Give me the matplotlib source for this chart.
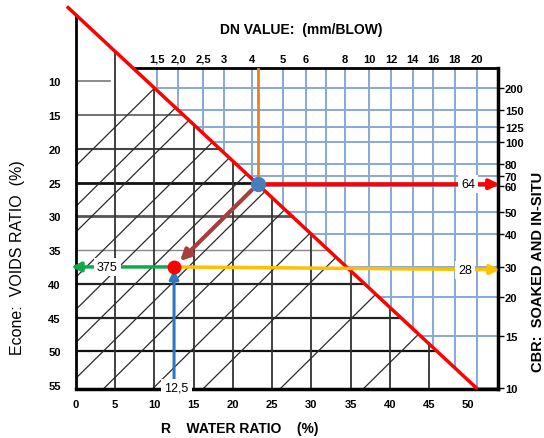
import numpy as np
import matplotlib.pyplot as plt

plt.rcParams['font.family'] = ['Liberation Sans', 'DejaVu Sans']

# scales
water_ticks = [0, 5, 10, 15, 20, 25, 30, 35, 40, 45, 50]
voids_ticks = [10, 15, 20, 25, 30, 35, 40, 45, 50, 55]

dn_labels = ['1,5', '2,0', '2,5', '3', '4', '5', '6', '', '8', '10', '12', '14', '16', '18', '20']
dn_at_water = [10.3, 13.0, 16.2, 18.9, 22.4, 26.4, 29.3, 31.9, 34.3, 37.4, 40.2, 42.9, 45.5, 48.3, 51.1]

cbr_labels = ['200', '150', '125', '100', '80', '70', '60', '50', '40', '30', '20', '15', '10']
cbr_at_voids = [10.9, 14.2, 16.7, 19.0, 22.2, 24.0, 25.5, 29.4, 32.6, 37.5, 42.0, 47.8, 55.4]

# saturation line (red) end points
sat_water = [-1.0, 51.0]
sat_voids = [-0.95, 55.4]

# diagonal family: voids value where each line meets water = 0
diag_c = [22.5, 28.5, 32.3, 39.0, 43.8, 48.7, 54.0, 59.6, 66.8, 74.2, 85.5, 97.7]

# worked example
ex_water = 12.5
ex_voids = 37.5
ex_cbr_low = '28'
ex_cbr_high = '64'
ex_voids_label = '375'
ex_water_label = '12,5'

# --- layout
x_max, y_top, y_bot = 53.8, 8.0, 55.6
k = 1.15  # diagonal slope
m = (sat_voids[1] - sat_voids[0]) / (sat_water[1] - sat_water[0])
b0 = sat_voids[0] - m * sat_water[0]


def red_y(x):
    return b0 + m * x


def red_x(y):
    return (y - b0) / m


fig = plt.figure(figsize=(5.44, 4.39), dpi=100)
ax = fig.add_axes([76 / 544, 49 / 439, 422 / 544, 321 / 439])
ax.set_xlim(0, x_max)
ax.set_ylim(y_bot, y_top)

# blue grid (upper right)
blue = '#86a9d6'
for x in dn_at_water:
    ax.plot([x, x], [y_top, min(red_y(x), y_bot)], color=blue, lw=1.4, zorder=1)
for y in cbr_at_voids:
    ax.plot([max(red_x(y), 0), x_max], [y, y], color=blue, lw=1.4, zorder=1)

# black grid (lower left)
hstyle = {10: ('#777777', 1.2), 15: ('#666666', 1.3), 20: ('#444444', 1.5),
          25: ('#111111', 2.0), 30: ('#555555', 2.0), 35: ('#888888', 1.0),
          40: ('#222222', 1.6), 45: ('#222222', 1.6), 50: ('#111111', 1.6)}
for v in voids_ticks[:-1]:
    c, lw = hstyle[v]
    x_end = red_x(v) if v > 10 else 4.3
    ax.plot([0, x_end], [v, v], color=c, lw=lw, zorder=2)
for w in water_ticks[1:-1]:
    ax.plot([w, w], [y_bot, red_y(w)], color='#333333', lw=1.3, zorder=2, clip_on=False)
for c in diag_c:
    if c <= y_bot:
        x0, y0 = 0, c
    else:
        x0, y0 = (c - y_bot) / k, y_bot
    x1 = (c - b0) / (k + m)
    ax.plot([x0, x1], [y0, c - k * x1], color='#2a2a2a', lw=0.9, zorder=2)

# frame
ax.spines['left'].set_visible(False)
ax.spines['top'].set_visible(False)
ax.spines['bottom'].set_linewidth(2.5)
ax.spines['right'].set_linewidth(2.5)
ax.plot([0, 0], [y_bot, red_y(0)], color='black', lw=2, clip_on=False, zorder=3)
ax.plot([red_x(y_top), x_max], [y_top, y_top], color='black', lw=2, clip_on=False, zorder=3)

# saturation line
ax.plot(sat_water, sat_voids, color='red', lw=2.5, clip_on=False, zorder=5)

# worked example
dc = ex_voids + k * ex_water
bx = (dc - b0) / (k + m)
by = red_y(bx)

ax.plot([bx, bx], [y_top, by], color='#e8801e', lw=2, zorder=6)

arr = dict(arrowstyle='-|>', shrinkA=0, shrinkB=0, mutation_scale=14)
ax.annotate('', xy=(54.0, by), xytext=(bx, by),
            arrowprops=dict(arr, color='red', lw=3), annotation_clip=False, zorder=6)
ax.annotate('', xy=(54.0, ex_voids + 0.4), xytext=(ex_water, ex_voids),
            arrowprops=dict(arr, color='#ffc000', lw=2.5), annotation_clip=False, zorder=6)
ax.annotate('', xy=(-0.6, ex_voids), xytext=(ex_water, ex_voids),
            arrowprops=dict(arr, color='#12a84a', lw=2.5), annotation_clip=False, zorder=6)
ax.annotate('', xy=(ex_water, ex_voids + 0.4), xytext=(ex_water, 55.0),
            arrowprops=dict(arr, color='#2e78c0', lw=2.2), annotation_clip=False, zorder=6)
ax.annotate('', xy=(ex_water, ex_voids), xytext=(bx, by),
            arrowprops=dict(arrowstyle='-|>', shrinkA=6, shrinkB=6, mutation_scale=16,
                            color='#a5403a', lw=3), zorder=6)

ax.plot(bx, by, 'o', color='#4a7ebb', ms=10, zorder=8)
ax.plot(ex_water, ex_voids, 'o', color='red', ms=9, zorder=8)

box = dict(boxstyle='square,pad=0.25', fc='white', ec='none')
lbl = dict(fontsize=9, ha='center', va='center', bbox=box, zorder=9, clip_on=False)
ax.text(50.0, by, ex_cbr_high, **lbl)
ax.text(49.6, ex_voids + 0.4, ex_cbr_low, **lbl)
ax.text(4.0, ex_voids, ex_voids_label, **lbl)
ax.text(12.8, y_bot - 0.2, ex_water_label, **lbl)

# ticks
tick_font = dict(fontsize=8, fontweight='bold')
ax.set_xticks(water_ticks)
ax.set_xticklabels([str(t) for t in water_ticks], **tick_font)
ax.set_yticks(voids_ticks)
ax.set_yticklabels([str(t) for t in voids_ticks], **tick_font)
ax.tick_params(axis='x', length=0, pad=7)
ax.tick_params(axis='y', length=0, pad=11)

ax_t = ax.twiny()
ax_t.set_xlim(ax.get_xlim())
ax_t.set_xticks(dn_at_water)
ax_t.set_xticklabels(dn_labels, **tick_font)
ax_t.tick_params(axis='x', length=0, pad=3)

ax_r = ax.twinx()
ax_r.set_ylim(ax.get_ylim())
ax_r.set_yticks(cbr_at_voids)
ax_r.set_yticklabels(cbr_labels, **tick_font)
ax_r.tick_params(axis='y', length=4, width=1, pad=1)
for a in (ax_t, ax_r):
    for s in a.spines.values():
        s.set_visible(False)

# titles
fig.text(301 / 544, 1 - 30 / 439, 'DN VALUE:  (mm/BLOW)', fontsize=10, fontweight='bold',
         ha='center', va='center')
fig.text(240 / 544, 1 - 429 / 439, 'R    WATER RATIO    (%)', fontsize=10, fontweight='bold',
         ha='center', va='center')
fig.text(18 / 544, 1 - 258 / 439, 'Econe:  VOIDS RATIO  (%)', fontsize=11.5,
         rotation=90, ha='center', va='center')
fig.text(538 / 544, 1 - 272 / 439, 'CBR:  SOAKED AND IN-SITU', fontsize=10.5, fontweight='bold',
         rotation=90, ha='center', va='center')

fig.savefig('out.png', dpi=100)
